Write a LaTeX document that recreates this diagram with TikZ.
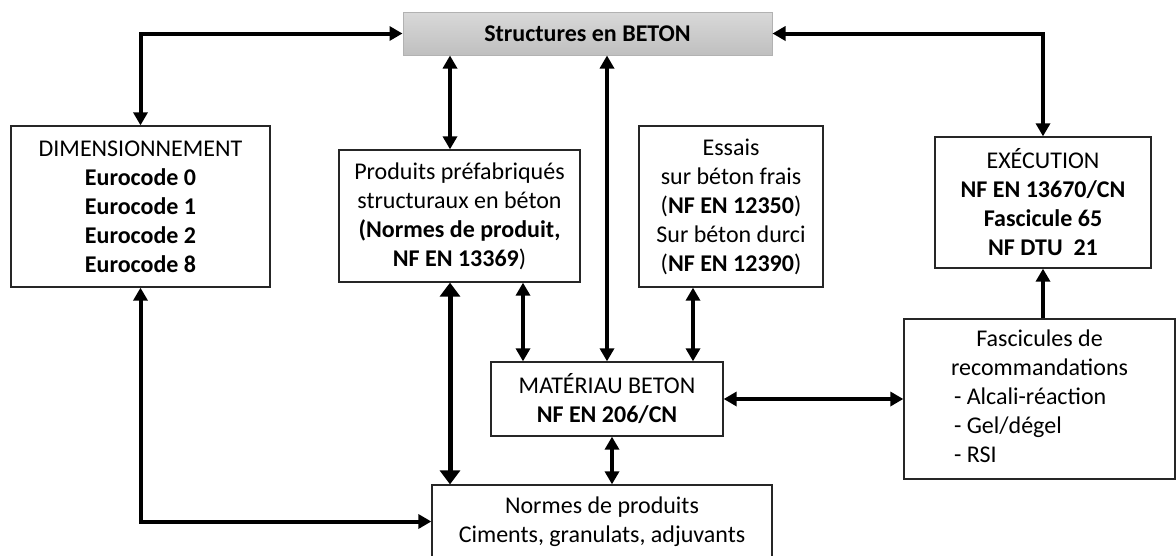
\documentclass[tikz,border=0pt]{standalone}
\usepackage{fontspec}
\setmainfont{Carlito}
\usetikzlibrary{arrows.meta}
\tikzset{
  box/.style={draw=black!85, line width=1.3pt, inner sep=0pt, align=center,
    font=\fontsize{24}{29}\selectfont},
  biarrow/.style={line width=4pt,
    {Triangle[length=13pt,width=14pt]}-{Triangle[length=13pt,width=14pt]}},
  onearrow/.style={line width=4pt, -{Triangle[length=13pt,width=14pt]}},
  bigarrow/.style={line width=5pt,
    {Triangle[length=14pt,width=20pt]}-{Triangle[length=14pt,width=20pt]}},
}
\begin{document}
\begin{tikzpicture}[x=1pt, y=-1pt]
\useasboundingbox (0,0) rectangle (1176,555);
% nodes
\node[box, draw=black!30, line width=1pt, top color=black!15, bottom color=black!25,
  minimum width=369pt, minimum height=43pt] (struct) at (587.5, 33.5)
  {\textbf{Structures en BETON}};
\node[box, minimum width=259pt, minimum height=161pt] (dim) at (140.5, 206.5)
  {DIMENSIONNEMENT\\ \textbf{Eurocode 0}\\ \textbf{Eurocode 1}\\ \textbf{Eurocode 2}\\ \textbf{Eurocode 8}};
\node[box, minimum width=241pt, minimum height=132pt] (prod) at (459.5, 216)
  {Produits préfabriqués\\ structuraux en béton\\ \textbf{(Normes de produit,}\\ \textbf{NF EN 13369})};
\node[box, minimum width=184pt, minimum height=161pt] (essais) at (731, 206.5)
  {Essais\\ sur béton frais\\ (\textbf{NF EN 12350})\\ Sur béton durci\\ (\textbf{NF EN 12390})};
\node[box, minimum width=216pt, minimum height=131pt] (exec) at (1043, 202.5)
  {EXÉCUTION\\ \textbf{NF EN 13670/CN}\\ \textbf{Fascicule 65}\\ \textbf{NF DTU~~21}};
\node[box, minimum width=232pt, minimum height=74pt] (mat) at (607, 399)
  {MATÉRIAU BETON\\ \textbf{NF EN 206/CN}};
\node[box, minimum width=271pt, minimum height=160pt] (fasc) at (1039.5, 399)
  {\begin{tabular}{@{}l@{}}
   \multicolumn{1}{@{}c@{}}{Fascicules de}\\
   \multicolumn{1}{@{}c@{}}{recommandations}\\
   \hspace{3pt}- Alcali-réaction\\
   \hspace{3pt}- Gel/dégel\\
   \hspace{3pt}- RSI
   \end{tabular}};
\node[box, minimum width=340pt, minimum height=73pt] (normes) at (602, 521.5)
  {Normes de produits\\ Ciments, granulats, adjuvants};
% arrows
\draw[biarrow] (dim.north) |- (struct.west);
\draw[biarrow] ([xshift=-9.5pt]prod.north) -- ([xshift=-9.5pt]prod.north |- struct.south);
\draw[biarrow] (mat.north) -- (mat.north |- struct.south);
\draw[biarrow] (struct.east) -| (exec.north);
\draw[onearrow] (exec.south |- fasc.north) -- (exec.south);
\draw[biarrow] (mat.east) -- (fasc.west);
\draw[biarrow] ([xshift=-38pt]essais.south) -- ([xshift=-38pt]essais.south |- mat.north);
\draw[biarrow] ([xshift=63.5pt]prod.south) -- ([xshift=63.5pt]prod.south |- mat.north);
\draw[bigarrow] ([xshift=-9.5pt]prod.south) -- ([xshift=-9.5pt]prod.south |- normes.north);
\draw[biarrow] ([xshift=5pt]mat.south) -- ([xshift=5pt]mat.south |- normes.north);
\draw[biarrow] (dim.south) |- (normes.west);
\end{tikzpicture}
\end{document}
